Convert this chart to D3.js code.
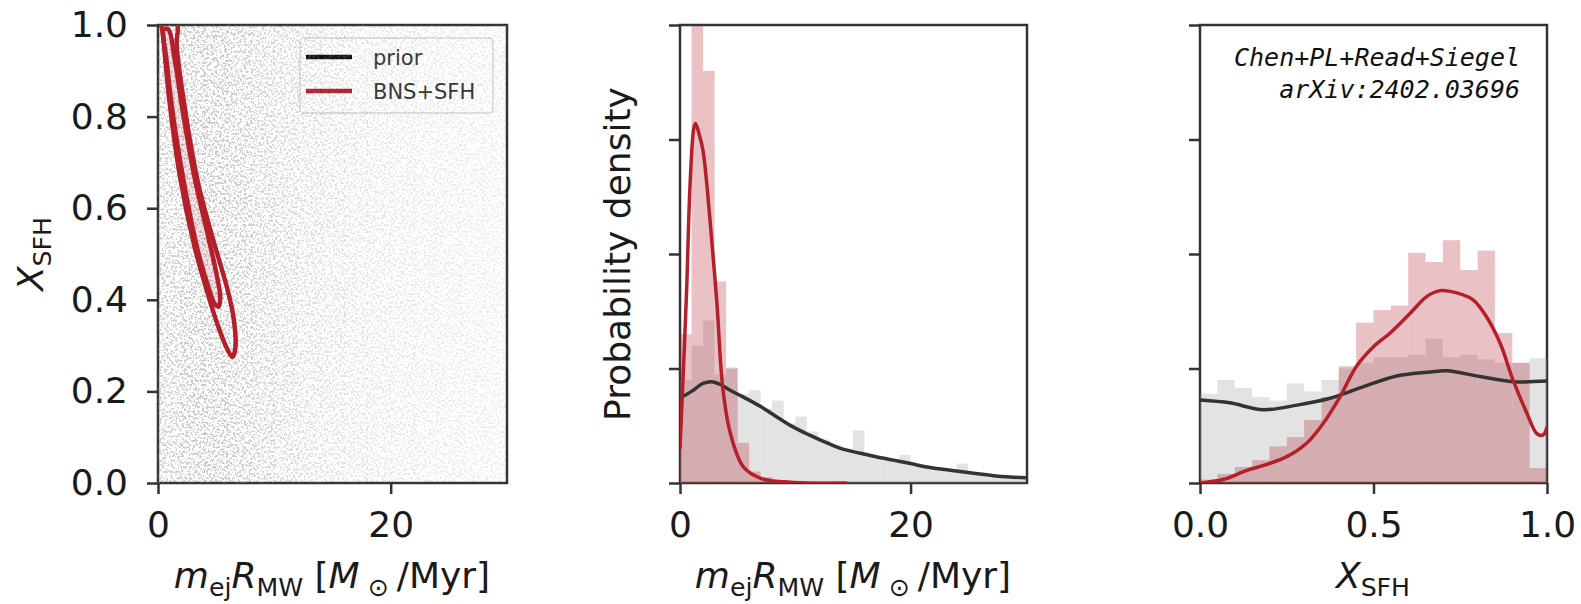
<!DOCTYPE html>
<html>
<head>
<meta charset="utf-8">
<script src="https://cdn.jsdelivr.net/npm/d3@7"></script>
<style>
body { margin: 0; background: #fff; }
svg { display: block; font-family: 'DejaVu Sans', sans-serif; }
</style>
</head>
<body>
<svg width="1581" height="604"></svg>
<script>
// panel 1: prior scatter shading per 2-unit column, and the two credible contours
var scatterShade = [0.38, 0.44, 0.44, 0.4, 0.35, 0.3, 0.26, 0.23, 0.21, 0.19, 0.18, 0.17, 0.16, 0.15, 0.14]
var contourOuter = [[0.3, 1.02], [0.45, 0.975], [1.0, 0.83], [1.95, 0.66], [3.1, 0.52], [4.2, 0.42], [5.2, 0.34], [6.0, 0.29], [6.4, 0.275],
  [6.65, 0.295], [6.5, 0.36], [6.0, 0.42], [5.1, 0.5], [4.2, 0.58], [3.4, 0.66], [2.3, 0.82], [1.6, 0.96], [1.7, 0.99], [1.5, 1.02]]
var contourInner = [[0.5, 0.99], [0.75, 0.92], [1.2, 0.82], [2.2, 0.66], [3.3, 0.52], [4.3, 0.43], [4.9, 0.39], [5.2, 0.385],
  [5.35, 0.405], [5.0, 0.46], [4.3, 0.54], [3.2, 0.66], [2.2, 0.8], [1.4, 0.93], [0.9, 0.99]]

// panel 2: m_ej R_MW histograms (bin width 1) and KDE curves
var mejPrior = [0.9, 1.2, 1.42, 0.95, 1.01, 0.78, 0.81, 0.65, 0.72, 0.52, 0.58, 0.45, 0.38, 0.33, 0.3,
  0.46, 0.25, 0.22, 0.2, 0.245, 0.16, 0.14, 0.12, 0.1, 0.17, 0.08, 0.07, 0.06, 0.05, 0.045]
var mejPost = [1.3, 4.3, 3.6, 1.76, 1.0, 0.35, 0.1, 0.05, 0.02, 0.01, 0.005, 0.005, 0, 0, 0.005]
var mejPriorKde = [[0, 0.74], [1, 0.8], [2, 0.87], [2.75, 0.885], [3.5, 0.86], [4.35, 0.81], [5.5, 0.75], [6.96, 0.67], [8.5, 0.57],
  [9.8, 0.49], [11.2, 0.42], [12.75, 0.35], [14, 0.3], [15.65, 0.26], [17, 0.23], [18.5, 0.2], [20, 0.17], [21.4, 0.14],
  [22.8, 0.12], [24.3, 0.1], [25.8, 0.08], [27.2, 0.064], [28.6, 0.053], [30, 0.046]]
var mejPostKde = [[0, 0.3], [0.3, 1.0], [0.58, 1.7], [0.87, 2.6], [1.2, 3.1], [1.35, 3.14], [1.65, 3.05], [2.0, 2.9], [2.6, 2.3],
  [3.2, 1.57], [3.7, 0.84], [4.35, 0.44], [5.5, 0.14], [7, 0.04], [9, 0.01], [11, 0], [14.5, 0]]

// panel 3: X_SFH histograms (bin width 0.05) and KDE curves
var xPrior = [0.78, 0.9, 0.83, 0.75, 0.72, 0.87, 0.8, 0.9, 1.0, 1.05, 1.1, 1.1, 1.12, 1.26, 1.1, 1.12, 1.08, 1.05, 1.05, 1.09]
var xPost = [0.03, 0.08, 0.14, 0.2, 0.32, 0.4, 0.55, 0.75, 1.02, 1.4, 1.51, 1.55, 2.01, 1.93, 2.12, 1.86, 2.03, 1.31, 1.05, 0.13]
var xPriorKde = [[0, 0.725], [0.086, 0.7], [0.182, 0.64], [0.28, 0.68], [0.375, 0.74], [0.47, 0.84], [0.567, 0.935],
  [0.663, 0.97], [0.711, 0.98], [0.807, 0.93], [0.903, 0.885], [1, 0.89]]
var xPostKde = [[0, 0], [0.066, 0.03], [0.135, 0.11], [0.19, 0.16], [0.25, 0.23], [0.308, 0.35], [0.355, 0.52], [0.403, 0.75],
  [0.451, 1.02], [0.5, 1.19], [0.548, 1.31], [0.605, 1.48], [0.654, 1.63], [0.692, 1.68], [0.74, 1.66], [0.787, 1.6],
  [0.826, 1.45], [0.865, 1.22], [0.902, 0.9], [0.942, 0.61], [0.971, 0.43], [0.989, 0.42], [1, 0.49]]

var legendItems = ['prior', 'BNS+SFH']
var note = ['Chen+PL+Read+Siegel', 'arXiv:2402.03696']

var red = '#b31f2b'
var dark = '#333'
var plotTop = 25, plotBottom = 483
var fs = 36

var svg = d3.select('svg')
var defs = svg.append('defs')

// speckle texture for the prior sample cloud; column opacity sets how dense it looks
var speckle = defs.append('filter').attr('id', 'speckle')
  .attr('filterUnits', 'userSpaceOnUse')
  .attr('x', 150).attr('y', 20).attr('width', 370).attr('height', 470)
  .attr('color-interpolation-filters', 'sRGB')
speckle.append('feTurbulence').attr('type', 'fractalNoise').attr('baseFrequency', 0.45)
  .attr('numOctaves', 2).attr('seed', 7).attr('result', 'noise')
speckle.append('feColorMatrix').attr('in', 'noise').attr('type', 'matrix')
  .attr('values', '0 0 0 0 0.55  0 0 0 0 0.55  0 0 0 0 0.55  -20 0 0 0 9.6').attr('result', 'dots')
speckle.append('feComposite').attr('in', 'dots').attr('in2', 'SourceGraphic').attr('operator', 'in')

function makePanel(id, x0, x1, xDomain, yDomain) {
  defs.append('clipPath').attr('id', id).append('rect')
    .attr('x', x0).attr('y', plotTop).attr('width', x1 - x0).attr('height', plotBottom - plotTop)
  return {
    x: d3.scaleLinear().domain(xDomain).range([x0, x1]),
    y: d3.scaleLinear().domain(yDomain).range([plotBottom, plotTop]),
    g: svg.append('g'),
    plot: svg.append('g').attr('clip-path', 'url(#' + id + ')'),
    x0: x0, x1: x1
  }
}

function axes(p, xTicks, xFmt, yTicks, yFmt) {
  var ax = p.g.append('g').attr('transform', 'translate(0,' + plotBottom + ')')
    .call(d3.axisBottom(p.x).tickValues(xTicks).tickFormat(xFmt).tickSize(11).tickPadding(17))
  var ay = p.g.append('g').attr('transform', 'translate(' + p.x0 + ',0)')
    .call(d3.axisLeft(p.y).tickValues(yTicks).tickFormat(yFmt || '').tickSize(11).tickPadding(19))
  ;[ax, ay].forEach(function (a) {
    a.select('.domain').remove()
    a.selectAll('line').attr('stroke', dark).attr('stroke-width', 2.5)
    a.selectAll('text').attr('font-size', fs).attr('fill', '#1a1a1a').attr('font-family', 'DejaVu Sans')
  })
}

function frame(p) {
  p.g.append('rect').attr('x', p.x0).attr('y', plotTop).attr('width', p.x1 - p.x0).attr('height', plotBottom - plotTop)
    .attr('fill', 'none').attr('stroke', dark).attr('stroke-width', 2.5)
}

function hist(p, values, width, fill, opacity) {
  p.plot.append('g').selectAll('rect').data(values).enter().append('rect')
    .attr('x', function (d, i) { return p.x(i * width) })
    .attr('width', function (d, i) { return p.x((i + 1) * width) - p.x(i * width) })
    .attr('y', function (d) { return p.y(d) })
    .attr('height', function (d) { return plotBottom - p.y(d) })
    .attr('fill', fill).attr('fill-opacity', opacity)
}

function kde(p, pts, color, w) {
  var line = d3.line().x(function (d) { return p.x(d[0]) }).y(function (d) { return p.y(d[1]) })
    .curve(d3.curveCatmullRom.alpha(0.5))
  p.plot.append('path').attr('d', line(pts)).attr('fill', 'none')
    .attr('stroke', color).attr('stroke-width', w).attr('stroke-linejoin', 'round')
}

// write mathtext-like labels with italic variables and upright subscripts
function mathText(t, parts, size) {
  var shift = 0
  parts.forEach(function (part) {
    var s = t.append('tspan').text(part.t)
    var want = part.sub ? size * 0.22 : 0
    if (want !== shift) { s.attr('dy', want - shift); shift = want }
    s.attr('font-size', part.sub ? size * 0.7 : size)
    if (part.i) s.attr('font-style', 'italic')
  })
}

var mejLabel = [{t: 'm', i: true}, {t: 'ej', sub: true}, {t: 'R', i: true}, {t: 'MW', sub: true},
  {t: ' [', i: false}, {t: 'M', i: true}, {t: ' \u2299 ', sub: true}, {t: '/Myr]'}]
var xsfhLabel = [{t: 'X', i: true}, {t: 'SFH', sub: true}]

// ---- panel 1
var p1 = makePanel('c1', 158, 507, [0, 30], [0, 1])
p1.plot.append('g').attr('filter', 'url(#speckle)')
  .selectAll('rect').data(scatterShade).enter().append('rect')
  .attr('x', function (d, i) { return p1.x(i * 2) })
  .attr('width', function (d, i) { return p1.x((i + 1) * 2) - p1.x(i * 2) + 0.5 })
  .attr('y', plotTop).attr('height', plotBottom - plotTop)
  .attr('fill', '#000').attr('fill-opacity', function (d) { return d })

var contourLine = d3.line().x(function (d) { return p1.x(d[0]) }).y(function (d) { return p1.y(d[1]) })
  .curve(d3.curveCatmullRomClosed.alpha(0.5))
p1.plot.append('path').attr('d', contourLine(contourOuter)).attr('fill', 'none')
  .attr('stroke', red).attr('stroke-width', 4.5)
p1.plot.append('path').attr('d', contourLine(contourInner)).attr('fill', red).attr('fill-opacity', 0.12)
  .attr('stroke', red).attr('stroke-width', 4.5)

var leg = p1.g.append('g')
leg.append('rect').attr('x', 300).attr('y', 38).attr('width', 193).attr('height', 75).attr('rx', 4)
  .attr('fill', '#fff').attr('fill-opacity', 0.8).attr('stroke', '#d8d8d8').attr('stroke-width', 1.5)
leg.selectAll('line').data(legendItems).enter().append('line')
  .attr('x1', 306).attr('x2', 352)
  .attr('y1', function (d, i) { return 57 + i * 34 }).attr('y2', function (d, i) { return 57 + i * 34 })
  .attr('stroke', function (d, i) { return i ? red : '#111' }).attr('stroke-width', 4.5)
leg.selectAll('text').data(legendItems).enter().append('text')
  .attr('x', 373).attr('y', function (d, i) { return 57 + i * 34 }).attr('dy', '0.36em')
  .attr('font-size', 21).attr('fill', '#333').text(function (d) { return d })

axes(p1, [0, 20], d3.format('d'), [0, 0.2, 0.4, 0.6, 0.8, 1.0], d3.format('.1f'))
frame(p1)
mathText(p1.g.append('text').attr('x', 332).attr('y', 588).attr('text-anchor', 'middle').attr('fill', '#1a1a1a'), mejLabel, fs)
mathText(p1.g.append('text').attr('transform', 'translate(43,254) rotate(-90)').attr('text-anchor', 'middle').attr('fill', '#1a1a1a'), xsfhLabel, fs)

// ---- panel 2
var p2 = makePanel('c2', 680, 1027, [0, 30.1], [0, 4])
hist(p2, mejPrior, 1, '#999', 0.28)
hist(p2, mejPost, 1, red, 0.27)
kde(p2, mejPriorKde, dark, 3.5)
kde(p2, mejPostKde, red, 3.5)
axes(p2, [0, 20], d3.format('d'), [0, 1, 2, 3, 4])
frame(p2)
mathText(p2.g.append('text').attr('x', 853).attr('y', 588).attr('text-anchor', 'middle').attr('fill', '#1a1a1a'), mejLabel, fs)
p2.g.append('text').attr('transform', 'translate(630,254) rotate(-90)').attr('text-anchor', 'middle')
  .attr('font-size', fs).attr('fill', '#1a1a1a').text('Probability density')

// ---- panel 3
var p3 = makePanel('c3', 1200, 1547, [0, 1], [0, 4])
hist(p3, xPrior, 0.05, '#999', 0.28)
hist(p3, xPost, 0.05, red, 0.27)
kde(p3, xPriorKde, dark, 3.5)
kde(p3, xPostKde, red, 3.5)
axes(p3, [0, 0.5, 1], d3.format('.1f'), [0, 1, 2, 3, 4])
frame(p3)
mathText(p3.g.append('text').attr('x', 1373).attr('y', 588).attr('text-anchor', 'middle').attr('fill', '#1a1a1a'), xsfhLabel, fs)
p3.g.append('g').selectAll('text').data(note).enter().append('text')
  .attr('x', 1520).attr('y', function (d, i) { return 66 + i * 32 })
  .attr('text-anchor', 'end').attr('font-family', 'DejaVu Sans Mono').attr('font-style', 'italic')
  .attr('font-size', 25).attr('fill', '#111').text(function (d) { return d })
</script>
</body>
</html>
